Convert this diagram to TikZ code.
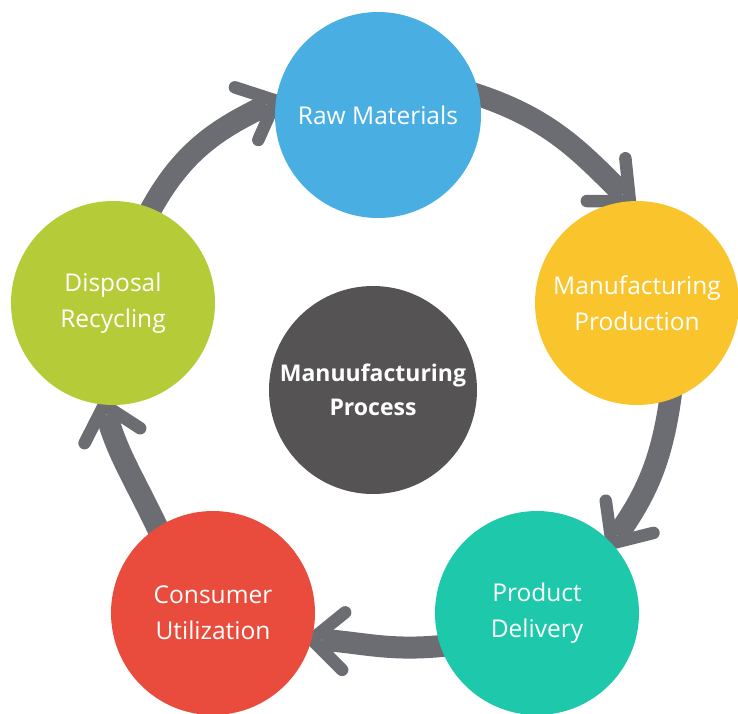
\documentclass[tikz,border=0pt]{standalone}
\usepackage{fontspec}
\setmainfont{Open Sans}
\usetikzlibrary{backgrounds}
\definecolor{cblue}{HTML}{49AFE2}
\definecolor{cyellow}{HTML}{FAC42D}
\definecolor{cteal}{HTML}{1EC8AA}
\definecolor{cred}{HTML}{E94C3D}
\definecolor{cgreen}{HTML}{B5CC38}
\definecolor{cdark}{HTML}{555354}
\definecolor{arrowgray}{HTML}{6C6D73}
\newcommand\ahead[2]{\draw[barb] ([shift={({#2+138}:43pt)}]#1) -- (#1) -- ([shift={({#2-138}:43pt)}]#1);}
\begin{document}
\begin{tikzpicture}[x=1pt,y=1pt,
  stage/.style={circle, minimum size=204pt, inner sep=0pt, text=white,
    font=\fontsize{24.5}{36}\selectfont, align=center},
  shaft/.style={draw=arrowgray, line width=22pt, line cap=butt},
  barb/.style={draw=arrowgray, line width=12.5pt, line cap=round, line join=round}]
\useasboundingbox (0,0) rectangle (738,-713);
\node[stage, fill=cblue, minimum size=206pt] (rm) at (378,-115) {Raw Materials};
\node[stage, fill=cyellow] (mp) at (637,-303) {Manufacturing\\Production};
\node[stage, fill=cteal] (pd) at (537,-613) {Product\\Delivery};
\node[stage, fill=cred] (cu) at (213,-613) {Consumer\\Utilization};
\node[stage, fill=cgreen] (dr) at (113,-303) {Disposal\\Recycling};
\node[stage, fill=cdark, minimum size=208pt, font=\bfseries\fontsize{23}{34}\selectfont] (core) at (373,-390) {Manuufacturing\\Process};
\begin{scope}[on background layer]
  \draw[shaft, shorten <=-12pt, shorten >=10pt] (dr.68) to[out=63,in=206] (rm.172);
  \ahead{rm.172}{24}
  \draw[shaft, shorten <=-12pt, shorten >=10pt] (rm.11) to[out=-17,in=135] (mp.94);
  \ahead{mp.94}{-42}
  \draw[shaft, shorten <=-12pt, shorten >=10pt] (mp.-71) to[out=-97,in=55] (pd.43);
  \ahead{pd.43}{236}
  \draw[shaft, shorten <=-12pt, shorten >=10pt] (pd.199) to[out=187,in=-3] (cu.-15);
  \ahead{cu.-15}{177}
  \draw[shaft, shorten <=-12pt, shorten >=10pt] (cu.123) to[out=115,in=285] (dr.-95);
  \ahead{dr.-95}{105}
\end{scope}
\end{tikzpicture}
\end{document}
